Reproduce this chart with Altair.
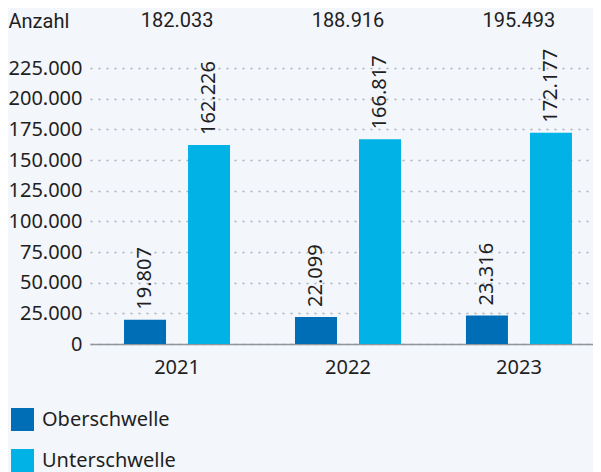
import altair as alt
import pandas as pd

years = ["2021", "2022", "2023"]
totals = [182033, 188916, 195493]
series = ["Oberschwelle", "Unterschwelle"]
ober = [19807, 22099, 23316]
unter = [162226, 166817, 172177]
colors = ["#006db7", "#00b2e6"]
y_ticks = [0, 25000, 50000, 75000, 100000, 125000, 150000, 175000, 200000, 225000]


def de(n):
    return f"{n:,}".replace(",", ".")


rows = []
for i, yr in enumerate(years):
    rows.append(dict(year=yr, series=series[0], value=ober[i], label=de(ober[i])))
    rows.append(dict(year=yr, series=series[1], value=unter[i], label=de(unter[i])))
df = pd.DataFrame(rows)
tot_df = pd.DataFrame(dict(year=years, total=totals, label=[de(t) for t in totals]))

FONT = "Noto Sans"
HEAD_FONT = "Roboto"
TXT = "#1f1f1f"
HEAD_Y = -47

x_scale = alt.Scale(domain=years, paddingInner=0.38, paddingOuter=0.161, align=0.618, round=False)
xo_scale = alt.Scale(domain=series, paddingInner=0.344, paddingOuter=0)
y_scale = alt.Scale(domain=[0, 225000], nice=False, zero=True)

x_enc = alt.X(
    "year:N", scale=x_scale, sort=years,
    axis=alt.Axis(title=None, labelAngle=0, ticks=False, domain=True,
                  domainColor="#8e959b", domainWidth=1.5, labelFontSize=20,
                  labelPadding=13, labelColor=TXT, labelFont=FONT, grid=False),
)
y_enc = alt.Y(
    "value:Q", scale=y_scale,
    axis=alt.Axis(values=y_ticks, title="Anzahl", titleAngle=0, titleX=-82, titleY=HEAD_Y,
                  titleAlign="left", titleBaseline="middle", titleFontSize=20,
                  titleFontWeight="normal", titleFont=HEAD_FONT, titleColor=TXT,
                  labelExpr="replace(format(datum.value, ','), regexp(',', 'g'), '.')",
                  labelFontSize=20, labelFont=FONT, labelColor=TXT, labelPadding=8,
                  ticks=False, domain=False, grid=True, gridDash=[2, 6],
                  gridColor="#aab0b8", gridWidth=1.5),
)
xo_enc = alt.XOffset("series:N", scale=xo_scale, sort=series)

bars = alt.Chart(df).mark_bar().encode(
    x=x_enc, xOffset=xo_enc, y=y_enc,
    color=alt.Color(
        "series:N", scale=alt.Scale(domain=series, range=colors),
        legend=alt.Legend(title=None, orient="none", legendX=-79, legendY=340,
                          symbolType="square", symbolSize=529, symbolStrokeWidth=0,
                          labelFontSize=20, labelFont=FONT, labelColor=TXT,
                          rowPadding=18, labelOffset=8, padding=0, direction="vertical"),
    ),
)

labels = alt.Chart(df).mark_text(
    angle=270, align="left", baseline="middle", dx=10, fontSize=20, font=FONT, color=TXT
).encode(x=x_enc, xOffset=xo_enc, y=y_enc, text="label:N")

tot_text = alt.Chart(tot_df).mark_text(
    align="center", baseline="middle", fontSize=20, font=HEAD_FONT, color=TXT
).encode(x=x_enc, y=alt.value(HEAD_Y), text="label:N")

chart = alt.layer(bars, labels, tot_text).properties(
    width=503, height=276, padding={"top": 3, "left": 0, "right": 0, "bottom": 0}
).configure(background="#f3f6fb").configure_view(stroke=None)

chart.save("out.html", embed_options={"renderer": "svg", "actions": False})
